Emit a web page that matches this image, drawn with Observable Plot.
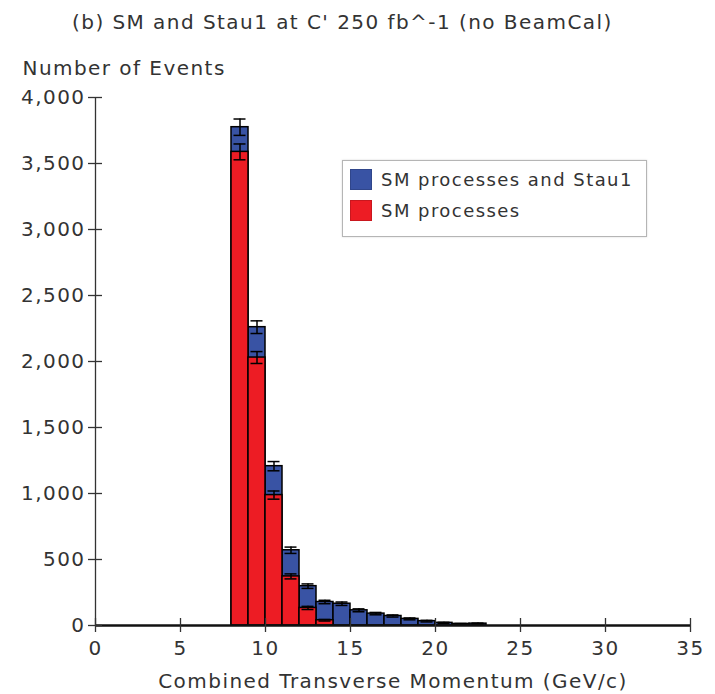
<!DOCTYPE html>
<html>
<head>
<meta charset="utf-8">
<script src="https://cdn.jsdelivr.net/npm/d3@7"></script>
<script src="https://cdn.jsdelivr.net/npm/@observablehq/plot@0.6"></script>
<style>
  body { margin: 0; background: #fff; font-family: "DejaVu Sans", sans-serif; color: #333; }
  #wrap { position: relative; width: 715px; height: 694px; overflow: hidden; }
  #title { position: absolute; left: 72px; top: 10px; line-height: 24px; font-size: 20px; letter-spacing: 1.45px; color: #333; white-space: nowrap; }
  #chart { position: absolute; left: 0; top: 40px; }
  #legend { position: absolute; left: 342px; top: 160px; width: 303px; height: 75px; border: 1px solid #b5b5b5; background: #fff; box-shadow: 0 0 2px rgba(0,0,0,0.15); }
  .item { position: absolute; left: 7px; height: 22px; display: flex; align-items: center; font-size: 18px; letter-spacing: 1.45px; color: #333; white-space: nowrap; }
  .sw { width: 22px; height: 21px; margin-right: 9px; box-sizing: border-box; border: 1px solid rgba(0,0,0,0.15); }
</style>
</head>
<body>
<div id="wrap">
  <div id="title"></div>
  <div id="chart"></div>
  <div id="legend"></div>
</div>
<script>
// ---- data ----
const binLow = [0,1,2,3,4,5,6,7,8,9,10,11,12,13,14,15,16,17,18,19,20,21,22,23,24,25,26,27,28,29,30,31,32,33,34];
const binWidth = 1;
const smStau1 = [0,0,0,0,0,0,0,0,3775,2260,1207,570,298,178,165,115,90,72,50,33,20,12,14,0,0,0,0,0,0,0,0,0,0,0,0];
const smStau1Err = [0,0,0,0,0,0,0,0,62,48,35,24,17,13,13,11,9,8,7,6,4,3,4,0,0,0,0,0,0,0,0,0,0,0,0];
const smOnly = [0,0,0,0,0,0,0,0,3588,2030,988,372,133,40,0,0,0,0,0,0,0,0,0,0,0,0,0,0,0,0,0,0,0,0,0];
const smOnlyErr = [0,0,0,0,0,0,0,0,60,45,31,19,12,6,0,0,0,0,0,0,0,0,0,0,0,0,0,0,0,0,0,0,0,0,0];
const seriesNames = ["SM processes and Stau1", "SM processes"];
const seriesColors = ["#3953a4", "#ed1c24"];
const xDomain = [0, 35];
const yDomain = [0, 4000];
const xTicks = [0, 5, 10, 15, 20, 25, 30, 35];
const yTicks = [0, 500, 1000, 1500, 2000, 2500, 3000, 3500, 4000];
const titleText = "(b) SM and Stau1 at C' 250 fb^-1 (no BeamCal)";
const xLabel = "Combined Transverse Momentum (GeV/c)";
const yLabel = "Number of Events";

const rows = binLow.map((lo, i) => ({
  lo, hi: lo + binWidth, mid: lo + binWidth / 2,
  blue: smStau1[i], be: smStau1Err[i],
  red: smOnly[i], re: smOnlyErr[i]
}));
const blueErr = rows.filter(d => d.be > 0);
const redErr = rows.filter(d => d.re > 0);

document.getElementById("title").textContent = titleText;

const sw = 1.5;
const capInset = -6;
const chart = Plot.plot({
  width: 715,
  height: 654,
  marginLeft: 95,
  marginRight: 25,
  marginTop: 57,
  marginBottom: 69,
  style: { fontFamily: "DejaVu Sans, sans-serif", fontSize: "20px", letterSpacing: "1.45px", color: "#333", background: "#fff", overflow: "visible" },
  x: { domain: xDomain },
  y: { domain: yDomain },
  marks: [
    Plot.rectY(rows, { x1: "lo", x2: "hi", y1: 0, y2: "blue", fill: seriesColors[0], stroke: "#000", strokeWidth: sw }),
    Plot.rectY(rows, { x1: "lo", x2: "hi", y1: 0, y2: "red", fill: seriesColors[1], stroke: "#000", strokeWidth: sw }),
    // error bars
    Plot.ruleX(blueErr, { x: "mid", y1: d => d.blue - d.be, y2: d => d.blue + d.be, stroke: "#000", strokeWidth: sw }),
    Plot.ruleY(blueErr, { y: d => d.blue + d.be, x1: "mid", x2: "mid", insetLeft: capInset, insetRight: capInset, stroke: "#000", strokeWidth: sw }),
    Plot.ruleY(blueErr, { y: d => d.blue - d.be, x1: "mid", x2: "mid", insetLeft: capInset, insetRight: capInset, stroke: "#000", strokeWidth: sw }),
    Plot.ruleX(redErr, { x: "mid", y1: d => d.red - d.re, y2: d => d.red + d.re, stroke: "#000", strokeWidth: sw }),
    Plot.ruleY(redErr, { y: d => d.red + d.re, x1: "mid", x2: "mid", insetLeft: capInset, insetRight: capInset, stroke: "#000", strokeWidth: sw }),
    Plot.ruleY(redErr, { y: d => d.red - d.re, x1: "mid", x2: "mid", insetLeft: capInset, insetRight: capInset, stroke: "#000", strokeWidth: sw }),
    // axis lines
    Plot.ruleX([xDomain[0]], { y1: yDomain[0], y2: yDomain[1], stroke: "#333", strokeWidth: 1.3 }),
    Plot.ruleY([yDomain[0]], { x1: xDomain[0], x2: xDomain[1], stroke: "#111", strokeWidth: 2.5 }),
    // ticks crossing the axes
    Plot.ruleY(yTicks, { x1: xDomain[0], x2: xDomain[0], insetLeft: -7, insetRight: -7, stroke: "#333", strokeWidth: 1.3 }),
    Plot.ruleX(xTicks, { y1: yDomain[0], y2: yDomain[0], insetTop: -7, insetBottom: -7, stroke: "#333", strokeWidth: 1.3 }),
    // tick labels
    Plot.axisY({ ticks: yTicks, tickSize: 0, tickPadding: 10, tickFormat: d3.format(","), label: null, fontSize: 20, fill: "#333" }),
    Plot.axisX({ ticks: xTicks, tickSize: 0, tickPadding: 15, tickFormat: d => String(d), label: null, fontSize: 20, fill: "#333" }),
    // axis titles
    Plot.text([xLabel], { frameAnchor: "bottom", text: d => d, lineAnchor: "middle", dy: 56, fontSize: 20, fill: "#333", style: "letter-spacing:1.95px" }),
    Plot.text([yLabel], { frameAnchor: "top-left", text: d => d, textAnchor: "start", lineAnchor: "middle", dx: -73, dy: -29, fontSize: 20, fill: "#333" })
  ]
});
document.getElementById("chart").appendChild(chart);

// legend
const legend = document.getElementById("legend");
seriesNames.forEach((name, i) => {
  const it = document.createElement("div");
  it.className = "item";
  it.style.top = (7 + i * 31) + "px";
  const s = document.createElement("div");
  s.className = "sw";
  s.style.background = seriesColors[i];
  const t = document.createElement("span");
  t.textContent = name;
  it.appendChild(s);
  it.appendChild(t);
  legend.appendChild(it);
});
</script>
</body>
</html>
